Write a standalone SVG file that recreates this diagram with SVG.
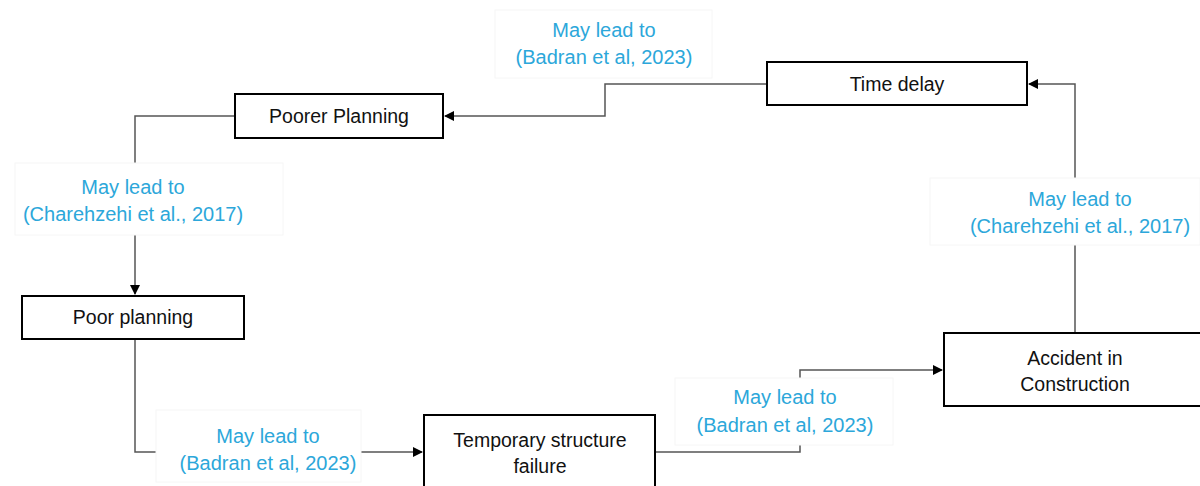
<svg xmlns="http://www.w3.org/2000/svg" width="1200" height="486" viewBox="0 0 1200 486">
<defs>
<marker id="arr" markerWidth="10" markerHeight="10" refX="9" refY="5" orient="auto" markerUnits="userSpaceOnUse">
<path d="M0,0 L10,5 L0,10 Z" fill="#000"/>
</marker>
<style>
.box{fill:#fff;stroke:#000;stroke-width:2}
.nt{font-family:"Liberation Sans",Arial,sans-serif;font-size:19.5px;fill:#111;text-anchor:middle}
.lb{font-family:"Liberation Sans",Arial,sans-serif;font-size:20px;fill:#2CA7DA;text-anchor:middle}
.lbg{fill:#fff;stroke:#f6f6f6;stroke-width:1}
.ln{fill:none;stroke:#555;stroke-width:1.5}
</style>
</defs>
<rect width="1200" height="486" fill="#fff"/>
<g id="connectors">
<path class="ln" d="M767,84 H605 V116 H445" marker-end="url(#arr)"/>
<path class="ln" d="M235,116 H135 V294" marker-end="url(#arr)"/>
<path class="ln" d="M135,339 V452 H422" marker-end="url(#arr)"/>
<path class="ln" d="M655,452 H800 V370 H942" marker-end="url(#arr)"/>
<path class="ln" d="M1075,333 V84 H1029" marker-end="url(#arr)"/>
</g>
<g id="label-1">
<rect class="lbg" x="495" y="10" width="217" height="68"/>
<text class="lb" x="604" y="37">May lead to</text>
<text class="lb" x="604" y="64">(Badran et al, 2023)</text>
</g>
<g id="label-2">
<rect class="lbg" x="15" y="163" width="268" height="72"/>
<text class="lb" x="133" y="194">May lead to</text>
<text class="lb" x="133" y="221">(Charehzehi et al., 2017)</text>
</g>
<g id="label-3">
<rect class="lbg" x="156" y="410" width="205" height="72"/>
<text class="lb" x="268" y="443">May lead to</text>
<text class="lb" x="268" y="470">(Badran et al, 2023)</text>
</g>
<g id="label-4">
<rect class="lbg" x="675" y="378" width="218" height="67"/>
<text class="lb" x="785" y="404">May lead to</text>
<text class="lb" x="785" y="432">(Badran et al, 2023)</text>
</g>
<g id="label-5">
<rect class="lbg" x="930" y="178" width="270" height="67"/>
<text class="lb" x="1080" y="206">May lead to</text>
<text class="lb" x="1080" y="233">(Charehzehi et al., 2017)</text>
</g>
<g id="node-time-delay">
<rect class="box" x="767" y="62" width="260" height="43"/>
<text class="nt" x="897" y="91">Time delay</text>
</g>
<g id="node-poorer-planning">
<rect class="box" x="235" y="94" width="208" height="44"/>
<text class="nt" x="339" y="123">Poorer Planning</text>
</g>
<g id="node-poor-planning">
<rect class="box" x="22" y="296" width="222" height="43"/>
<text class="nt" x="133" y="324">Poor planning</text>
</g>
<g id="node-temporary">
<rect class="box" x="424" y="415" width="231" height="78"/>
<text class="nt" x="540" y="447">Temporary structure</text>
<text class="nt" x="540" y="473">failure</text>
</g>
<g id="node-accident">
<rect class="box" x="944" y="333" width="262" height="73"/>
<text class="nt" x="1075" y="365">Accident in</text>
<text class="nt" x="1075" y="391">Construction</text>
</g>
</svg>
